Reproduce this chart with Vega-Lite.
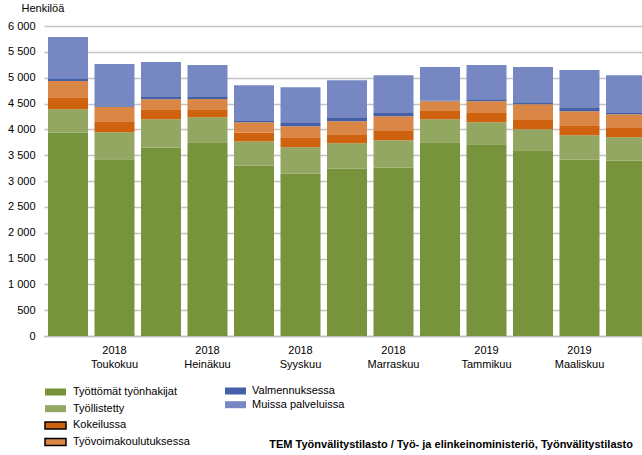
{
  "$schema": "https://vega.github.io/schema/vega-lite/v6.json",
  "autosize": {"type": "none"},
  "width": 598,
  "height": 310,
  "padding": {"left": 44, "top": 26, "right": 0, "bottom": 119},
  "background": "white",
  "config": {
    "view": {"stroke": null},
    "font": "Liberation Sans",
    "axis": {"labelFont": "Liberation Sans", "titleFont": "Liberation Sans", "labelColor": "#000000", "titleColor": "#000000"},
    "legend": {"labelFont": "Liberation Sans", "labelColor": "#000000", "padding": 0}
  },
  "title": {
    "text": "TEM Työnvälitystilasto / Työ- ja elinkeinoministeriö, Työnvälitystilasto",
    "orient": "bottom",
    "anchor": "end",
    "fontSize": 11,
    "fontWeight": "bold",
    "font": "Liberation Sans",
    "color": "#000000",
    "dx": -17,
    "offset": -10
  },
  "data": {
    "values": [
      {"kk": "2018 Huhtikuu", "sarja": "Työttömät työnhakijat", "lkm": 3940},
      {"kk": "2018 Huhtikuu", "sarja": "Työllistetty", "lkm": 450},
      {"kk": "2018 Huhtikuu", "sarja": "Kokeilussa", "lkm": 233},
      {"kk": "2018 Huhtikuu", "sarja": "Työvoimakoulutuksessa", "lkm": 311},
      {"kk": "2018 Huhtikuu", "sarja": "Valmennuksessa", "lkm": 40},
      {"kk": "2018 Huhtikuu", "sarja": "Muissa palveluissa", "lkm": 815},
      {"kk": "2018 Toukokuu", "sarja": "Työttömät työnhakijat", "lkm": 3420},
      {"kk": "2018 Toukokuu", "sarja": "Työllistetty", "lkm": 524},
      {"kk": "2018 Toukokuu", "sarja": "Kokeilussa", "lkm": 214},
      {"kk": "2018 Toukokuu", "sarja": "Työvoimakoulutuksessa", "lkm": 272},
      {"kk": "2018 Toukokuu", "sarja": "Valmennuksessa", "lkm": 19},
      {"kk": "2018 Toukokuu", "sarja": "Muissa palveluissa", "lkm": 816},
      {"kk": "2018 Kesäkuu", "sarja": "Työttömät työnhakijat", "lkm": 3650},
      {"kk": "2018 Kesäkuu", "sarja": "Työllistetty", "lkm": 544},
      {"kk": "2018 Kesäkuu", "sarja": "Kokeilussa", "lkm": 194},
      {"kk": "2018 Kesäkuu", "sarja": "Työvoimakoulutuksessa", "lkm": 194},
      {"kk": "2018 Kesäkuu", "sarja": "Valmennuksessa", "lkm": 58},
      {"kk": "2018 Kesäkuu", "sarja": "Muissa palveluissa", "lkm": 661},
      {"kk": "2018 Heinäkuu", "sarja": "Työttömät työnhakijat", "lkm": 3750},
      {"kk": "2018 Heinäkuu", "sarja": "Työllistetty", "lkm": 486},
      {"kk": "2018 Heinäkuu", "sarja": "Kokeilussa", "lkm": 155},
      {"kk": "2018 Heinäkuu", "sarja": "Työvoimakoulutuksessa", "lkm": 194},
      {"kk": "2018 Heinäkuu", "sarja": "Valmennuksessa", "lkm": 39},
      {"kk": "2018 Heinäkuu", "sarja": "Muissa palveluissa", "lkm": 621},
      {"kk": "2018 Elokuu", "sarja": "Työttömät työnhakijat", "lkm": 3300},
      {"kk": "2018 Elokuu", "sarja": "Työllistetty", "lkm": 466},
      {"kk": "2018 Elokuu", "sarja": "Kokeilussa", "lkm": 175},
      {"kk": "2018 Elokuu", "sarja": "Työvoimakoulutuksessa", "lkm": 194},
      {"kk": "2018 Elokuu", "sarja": "Valmennuksessa", "lkm": 39},
      {"kk": "2018 Elokuu", "sarja": "Muissa palveluissa", "lkm": 680},
      {"kk": "2018 Syyskuu", "sarja": "Työttömät työnhakijat", "lkm": 3146},
      {"kk": "2018 Syyskuu", "sarja": "Työllistetty", "lkm": 505},
      {"kk": "2018 Syyskuu", "sarja": "Kokeilussa", "lkm": 194},
      {"kk": "2018 Syyskuu", "sarja": "Työvoimakoulutuksessa", "lkm": 214},
      {"kk": "2018 Syyskuu", "sarja": "Valmennuksessa", "lkm": 77},
      {"kk": "2018 Syyskuu", "sarja": "Muissa palveluissa", "lkm": 680},
      {"kk": "2018 Lokakuu", "sarja": "Työttömät työnhakijat", "lkm": 3243},
      {"kk": "2018 Lokakuu", "sarja": "Työllistetty", "lkm": 486},
      {"kk": "2018 Lokakuu", "sarja": "Kokeilussa", "lkm": 174},
      {"kk": "2018 Lokakuu", "sarja": "Työvoimakoulutuksessa", "lkm": 253},
      {"kk": "2018 Lokakuu", "sarja": "Valmennuksessa", "lkm": 78},
      {"kk": "2018 Lokakuu", "sarja": "Muissa palveluissa", "lkm": 718},
      {"kk": "2018 Marraskuu", "sarja": "Työttömät työnhakijat", "lkm": 3263},
      {"kk": "2018 Marraskuu", "sarja": "Työllistetty", "lkm": 524},
      {"kk": "2018 Marraskuu", "sarja": "Kokeilussa", "lkm": 194},
      {"kk": "2018 Marraskuu", "sarja": "Työvoimakoulutuksessa", "lkm": 272},
      {"kk": "2018 Marraskuu", "sarja": "Valmennuksessa", "lkm": 78},
      {"kk": "2018 Marraskuu", "sarja": "Muissa palveluissa", "lkm": 718},
      {"kk": "2018 Joulukuu", "sarja": "Työttömät työnhakijat", "lkm": 3748},
      {"kk": "2018 Joulukuu", "sarja": "Työllistetty", "lkm": 447},
      {"kk": "2018 Joulukuu", "sarja": "Kokeilussa", "lkm": 175},
      {"kk": "2018 Joulukuu", "sarja": "Työvoimakoulutuksessa", "lkm": 174},
      {"kk": "2018 Joulukuu", "sarja": "Valmennuksessa", "lkm": 10},
      {"kk": "2018 Joulukuu", "sarja": "Muissa palveluissa", "lkm": 651},
      {"kk": "2019 Tammikuu", "sarja": "Työttömät työnhakijat", "lkm": 3709},
      {"kk": "2019 Tammikuu", "sarja": "Työllistetty", "lkm": 427},
      {"kk": "2019 Tammikuu", "sarja": "Kokeilussa", "lkm": 195},
      {"kk": "2019 Tammikuu", "sarja": "Työvoimakoulutuksessa", "lkm": 213},
      {"kk": "2019 Tammikuu", "sarja": "Valmennuksessa", "lkm": 39},
      {"kk": "2019 Tammikuu", "sarja": "Muissa palveluissa", "lkm": 660},
      {"kk": "2019 Helmikuu", "sarja": "Työttömät työnhakijat", "lkm": 3593},
      {"kk": "2019 Helmikuu", "sarja": "Työllistetty", "lkm": 407},
      {"kk": "2019 Helmikuu", "sarja": "Kokeilussa", "lkm": 195},
      {"kk": "2019 Helmikuu", "sarja": "Työvoimakoulutuksessa", "lkm": 291},
      {"kk": "2019 Helmikuu", "sarja": "Valmennuksessa", "lkm": 39},
      {"kk": "2019 Helmikuu", "sarja": "Muissa palveluissa", "lkm": 680},
      {"kk": "2019 Maaliskuu", "sarja": "Työttömät työnhakijat", "lkm": 3418},
      {"kk": "2019 Maaliskuu", "sarja": "Työllistetty", "lkm": 466},
      {"kk": "2019 Maaliskuu", "sarja": "Kokeilussa", "lkm": 194},
      {"kk": "2019 Maaliskuu", "sarja": "Työvoimakoulutuksessa", "lkm": 272},
      {"kk": "2019 Maaliskuu", "sarja": "Valmennuksessa", "lkm": 78},
      {"kk": "2019 Maaliskuu", "sarja": "Muissa palveluissa", "lkm": 718},
      {"kk": "2019 Huhtikuu", "sarja": "Työttömät työnhakijat", "lkm": 3398},
      {"kk": "2019 Huhtikuu", "sarja": "Työllistetty", "lkm": 447},
      {"kk": "2019 Huhtikuu", "sarja": "Kokeilussa", "lkm": 194},
      {"kk": "2019 Huhtikuu", "sarja": "Työvoimakoulutuksessa", "lkm": 253},
      {"kk": "2019 Huhtikuu", "sarja": "Valmennuksessa", "lkm": 39},
      {"kk": "2019 Huhtikuu", "sarja": "Muissa palveluissa", "lkm": 718}
    ]
  },
  "transform": [
    {"calculate": "indexof(['Työttömät työnhakijat','Työllistetty','Kokeilussa','Työvoimakoulutuksessa','Valmennuksessa','Muissa palveluissa'], datum.sarja)", "as": "jarjestys"}
  ],
  "encoding": {
    "x": {
      "field": "kk",
      "type": "nominal",
      "sort": null,
      "scale": {"range": [0, 606], "paddingInner": 0.14, "paddingOuter": 0.086},
      "axis": {
        "title": null,
        "ticks": false,
        "labelAngle": 0,
        "labelFontSize": 11,
        "labelBaseline": "top",
        "labelPadding": 8,
        "labelLineHeight": 14,
        "domainColor": "#bfbfbf",
        "domainWidth": 1.5,
        "labelExpr": "indexof(['2018 Toukokuu','2018 Heinäkuu','2018 Syyskuu','2018 Marraskuu','2019 Tammikuu','2019 Maaliskuu'], datum.value) >= 0 ? split(datum.value, ' ') : ''"
      }
    },
    "y": {
      "field": "lkm",
      "type": "quantitative",
      "stack": "zero",
      "scale": {"domain": [0, 6000], "nice": false},
      "axis": {
        "title": "Henkilöä",
        "titleAngle": 0,
        "titleAlign": "left",
        "titleBaseline": "middle",
        "titleX": -23,
        "titleY": -18,
        "titleFontSize": 11,
        "titleFontWeight": "normal",
        "values": [0, 500, 1000, 1500, 2000, 2500, 3000, 3500, 4000, 4500, 5000, 5500, 6000],
        "labelExpr": "replace(format(datum.value, ','), ',', ' ')",
        "labelFontSize": 11,
        "labelPadding": 9,
        "ticks": false,
        "domain": false,
        "grid": true,
        "gridColor": "#c4c4c4",
        "gridWidth": 1.3
      }
    },
    "order": {"field": "jarjestys", "type": "quantitative", "sort": "ascending"}
  },
  "layer": [
    {
      "mark": {"type": "bar"},
      "encoding": {
        "color": {
          "field": "sarja",
          "type": "nominal",
          "scale": {
            "domain": ["Työttömät työnhakijat", "Työllistetty", "Kokeilussa", "Työvoimakoulutuksessa", "Valmennuksessa", "Muissa palveluissa"],
            "range": ["#77933c", "#93a662", "#cf620e", "#d98646", "#4460a6", "#7787c1"]
          },
          "legend": {
            "title": null,
            "orient": "none",
            "legendX": 3.5,
            "legendY": 358,
            "direction": "vertical",
            "values": ["Työttömät työnhakijat", "Työllistetty", "Kokeilussa", "Työvoimakoulutuksessa"],
            "symbolType": "M-1.5,-0.5H1.5V0.5H-1.5Z",
            "symbolSize": 196,
            "symbolStrokeWidth": 0,
            "symbolOpacity": 1,
            "labelFontSize": 11,
            "labelOffset": 9.5,
            "rowPadding": 1.7,
            "encode": {"symbols": {"update": {"stroke": {"signal": "datum.value == 'Kokeilussa' || datum.value == 'Työvoimakoulutuksessa' ? '#000000' : 'transparent'"}, "strokeWidth": {"value": 1.5}}}}
          }
        }
      }
    },
    {
      "mark": {"type": "bar", "opacity": 0},
      "encoding": {
        "color": {
          "field": "sarja",
          "type": "nominal",
          "scale": {
            "domain": ["Työttömät työnhakijat", "Työllistetty", "Kokeilussa", "Työvoimakoulutuksessa", "Valmennuksessa", "Muissa palveluissa"],
            "range": ["#77933c", "#93a662", "#cf620e", "#d98646", "#4460a6", "#7787c1"]
          },
          "legend": {
            "title": null,
            "orient": "none",
            "legendX": 184.5,
            "legendY": 358,
            "direction": "vertical",
            "values": ["Valmennuksessa", "Muissa palveluissa"],
            "symbolType": "M-1.5,-0.5H1.5V0.5H-1.5Z",
            "symbolSize": 196,
            "symbolStrokeWidth": 0,
            "symbolOpacity": 1,
            "labelFontSize": 11,
            "labelOffset": 9.5,
            "rowPadding": 1.7
          }
        }
      }
    }
  ],
  "resolve": {"scale": {"color": "independent"}, "legend": {"color": "independent"}}
}
